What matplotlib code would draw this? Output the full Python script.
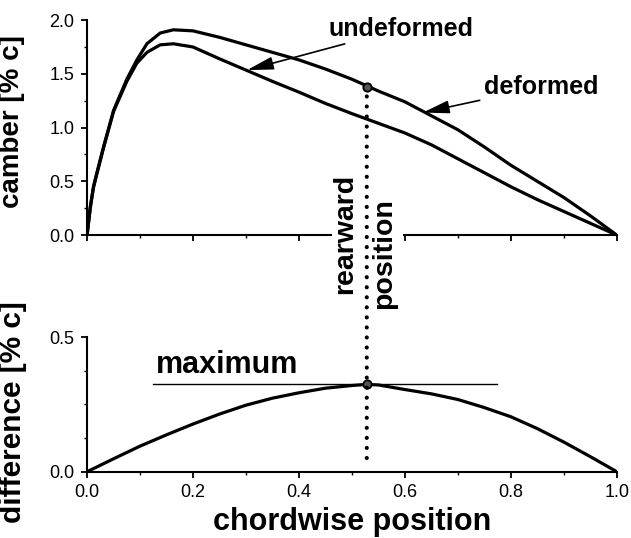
import matplotlib
matplotlib.use("Agg")
import matplotlib.pyplot as plt
from matplotlib.patches import ConnectionPatch, Rectangle
from matplotlib.ticker import MultipleLocator

plt.rcParams['font.family'] = ['Liberation Sans', 'DejaVu Sans']

# camber lines, x in chord fractions
x_camber = [0, 0.006, 0.012, 0.018, 0.031, 0.05, 0.075, 0.094, 0.113, 0.138, 0.163, 0.2,
            0.25, 0.3, 0.35, 0.4, 0.45, 0.5, 0.55, 0.6, 0.65, 0.7, 0.75, 0.8, 0.85, 0.9,
            0.95, 1.0]
deformed = [0, 0.26, 0.45, 0.57, 0.82, 1.16, 1.45, 1.63, 1.78, 1.88, 1.91, 1.90,
            1.84, 1.77, 1.70, 1.63, 1.545, 1.45, 1.34, 1.24, 1.11, 0.98, 0.82, 0.65,
            0.50, 0.35, 0.18, 0]
undeformed = [0, 0.25, 0.44, 0.56, 0.81, 1.15, 1.43, 1.60, 1.70, 1.77, 1.78, 1.75,
              1.64, 1.535, 1.43, 1.33, 1.225, 1.13, 1.04, 0.95, 0.84, 0.71, 0.58, 0.45,
              0.33, 0.22, 0.11, 0]

# difference curve
x_diff = [0, 0.05, 0.1, 0.15, 0.2, 0.25, 0.3, 0.35, 0.4, 0.45, 0.5, 0.528, 0.55,
          0.6, 0.65, 0.7, 0.75, 0.8, 0.85, 0.9, 0.95, 1.0]
difference = [0, 0.048, 0.095, 0.137, 0.177, 0.214, 0.247, 0.273, 0.293, 0.310, 0.320,
              0.324, 0.322, 0.305, 0.289, 0.268, 0.238, 0.204, 0.16, 0.11, 0.056, 0]

x_rear = 0.528
y_rear_camber = 1.38
y_max_diff = 0.324
max_line = [0.125, 0.773]

fig = plt.figure(figsize=(6.31, 5.38), dpi=100)
ax1 = fig.add_axes([0.138, 0.563, 0.8395, 0.3996])
ax2 = fig.add_axes([0.138, 0.1232, 0.8395, 0.2504])

for ax in (ax1, ax2):
    ax.spines['top'].set_visible(False)
    ax.spines['right'].set_visible(False)
    ax.spines['left'].set_linewidth(1.5)
    ax.spines['bottom'].set_linewidth(1.5)
    ax.set_xlim(0, 1)
    ax.xaxis.set_major_locator(MultipleLocator(0.2))
    ax.xaxis.set_minor_locator(MultipleLocator(0.1))
    ax.tick_params(which='major', direction='out', length=4, width=1.3, labelsize=13, pad=5)
    ax.tick_params(which='minor', direction='out', length=2.5, width=1.0)

# top panel
ax1.plot(x_camber, deformed, color='black', lw=2.3, solid_capstyle='round',
         solid_joinstyle='round')
ax1.plot(x_camber, undeformed, color='black', lw=2.3, solid_capstyle='round',
         solid_joinstyle='round')
ax1.plot([x_rear], [y_rear_camber], 'o', ms=6, mfc='#555555', mec='black', mew=1.3, zorder=5)
ax1.set_ylim(0, 2.0)
ax1.yaxis.set_major_locator(MultipleLocator(0.5))
ax1.yaxis.set_minor_locator(MultipleLocator(0.25))
ax1.tick_params(axis='x', labelbottom=False)
ax1.set_ylabel('camber [% c]', fontsize=20, fontweight='bold')
ax1.yaxis.set_label_coords(-0.118, 0.53)

arrow = dict(arrowstyle='-|>,head_length=0.9,head_width=0.22', color='black', lw=1.2,
             shrinkA=1, shrinkB=0)
ax1.annotate('undeformed', xy=(0.302, 1.535), xytext=(0.456, 1.92), fontsize=18,
             fontweight='bold', va='center', ha='left', arrowprops=arrow)
ax1.annotate('deformed', xy=(0.634, 1.14), xytext=(0.749, 1.377), fontsize=18,
             fontweight='bold', va='center', ha='left', arrowprops=arrow)

# bottom panel
ax2.plot(x_diff, difference, color='black', lw=2.3, solid_capstyle='round')
ax2.plot(max_line, [y_max_diff, y_max_diff], color='black', lw=1.0)
ax2.plot([x_rear], [y_max_diff], 'o', ms=6, mfc='#555555', mec='black', mew=1.3, zorder=5)
ax2.text(max_line[0] + 0.004, y_max_diff + 0.015, 'maximum', fontsize=22, fontweight='bold',
         ha='left', va='bottom')
ax2.set_ylim(0, 0.5)
ax2.yaxis.set_major_locator(MultipleLocator(0.5))
ax2.yaxis.set_minor_locator(MultipleLocator(0.125))
ax2.set_ylabel('difference [% c]', fontsize=21.5, fontweight='bold')
ax2.yaxis.set_label_coords(-0.113, 0.44)
ax2.set_xlabel('chordwise position', fontsize=22, fontweight='bold', labelpad=4)

# white gap in the top axis behind the vertical label
fig.add_artist(Rectangle((332 / 631, 1 - 242 / 538), 71 / 631, 14 / 538,
                         transform=fig.transFigure, facecolor='white', edgecolor='none',
                         zorder=1))
fig.text(345 / 631, 1 - 234 / 538, 'rearward', rotation=90, fontsize=20.5, fontweight='bold',
         ha='center', va='center', zorder=3)
fig.text(384 / 631, 1 - 254 / 538, 'position', rotation=90, fontsize=20.5, fontweight='bold',
         ha='center', va='center', zorder=3)

# dotted line joining both panels
con = ConnectionPatch(xyA=(x_rear, y_rear_camber - 0.09), coordsA=ax1.transData,
                      xyB=(x_rear, 0.028), coordsB=ax2.transData,
                      linestyle=(0, (0.01, 2.4)), lw=3.0, color='black',
                      capstyle='round', zorder=2)
fig.add_artist(con)

fig.savefig('out.png', dpi=100)
